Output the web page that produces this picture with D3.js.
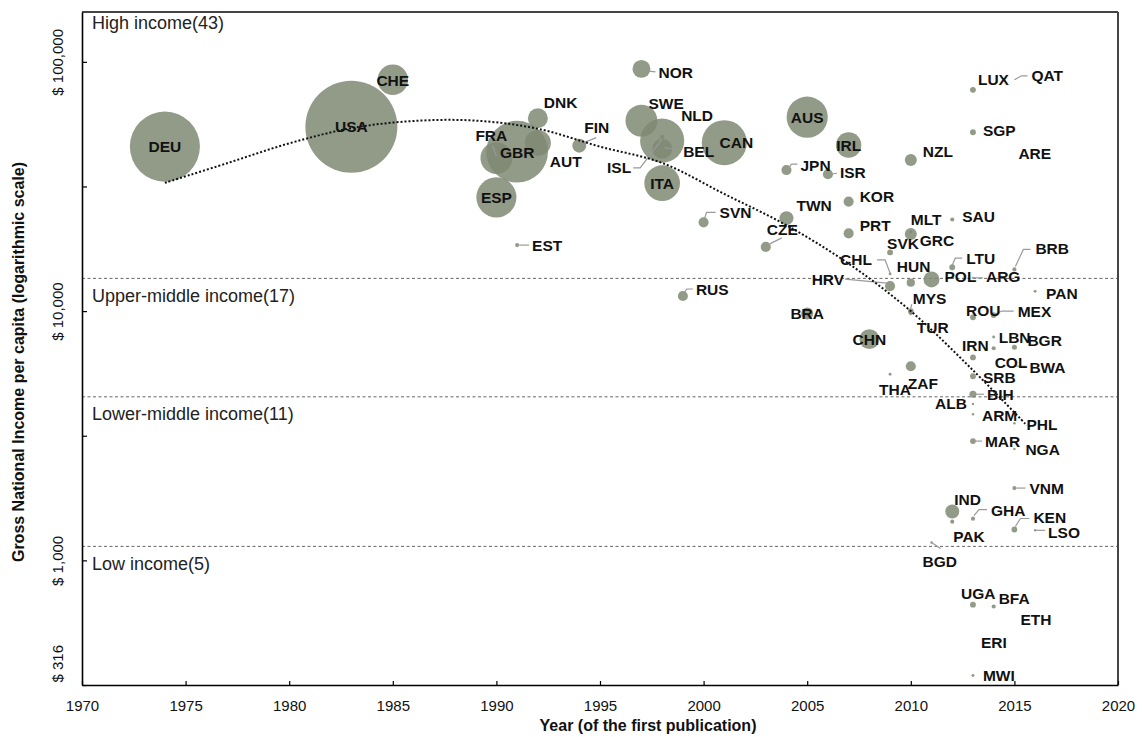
<!DOCTYPE html>
<html><head><meta charset="utf-8">
<script src="https://cdn.jsdelivr.net/npm/d3@7"></script>
<style>
body{margin:0;background:#fff}
svg{display:block}
text{font-family:"Liberation Sans",Arial,Helvetica,sans-serif}
</style>
</head><body>
<svg id="chart" width="1146" height="737"></svg>
<script>
// ---------- DATA ----------
const countries = ["DEU","USA","CHE","NOR","DNK","GBR","FRA","AUT","ESP","EST","FIN","SWE","NLD","BEL","ISL","ITA","CAN","SVN","AUS","IRL","JPN","ISR","NZL","LUX","QAT","SGP","ARE","KOR","TWN","CZE","PRT","MLT","GRC","SAU","SVK","CHL","HUN","POL","LTU","ARG","BRB","HRV","RUS","MYS","TUR","PAN","ROU","MEX","BRA","CHN","IRN","LBN","COL","BGR","BWA","SRB","ZAF","THA","BIH","ALB","ARM","PHL","MAR","NGA","VNM","IND","PAK","GHA","KEN","LSO","BGD","UGA","BFA","ETH","ERI","MWI"];
const years = [1974,1983,1985,1997,1992,1991,1990,1992,1990,1991,1994,1997,1998,1998,1998,1998,2001,2000,2005,2007,2004,2006,2010,2013,2015,2013,2015,2007,2004,2003,2007,2010,2010,2012,2009,2009,2010,2011,2012,2013,2015,2009,1999,2010,2010,2016,2013,2014,2005,2008,2013,2014,2014,2015,2015,2013,2010,2009,2013,2013,2013,2015,2013,2015,2015,2012,2012,2013,2015,2016,2011,2013,2014,2015,2013,2013];
const gni = [45700,54900,84700,93700,59400,43600,41100,47300,28600,18400,46100,58100,48300,44800,50000,32600,47400,22700,60000,46400,36800,35400,40400,77200,84700,52200,42800,27500,23600,18100,20500,20800,20400,23300,17200,14100,13000,13400,15000,13600,14700,12600,11500,10000,9820,12000,9440,9640,9790,7720,6520,7870,7100,7160,6010,5480,6010,5580,4640,4240,3860,3550,3010,2800,1950,1570,1430,1470,1330,1320,1180,664,653,580,469,345];
const sizes = [58,100,11,3.8,4.7,45,12,8,19,0.2,2.3,12,23,4.7,0.2,15,24,1.2,20,7.6,1.2,1.2,1.7,0.4,0,0.4,0,1.2,2.3,1.2,1.2,0.1,1.7,0.2,0.4,0.1,0.8,3,0.4,0.05,0.2,1.2,1.2,0.4,0.2,0.1,0.4,0.4,1.7,4.7,0.4,0.1,0.2,0.3,0.05,0.4,1.2,0.1,0.6,0.07,0.07,0.07,0.4,0.07,0.2,2.3,0.2,0.2,0.4,0.07,0.07,0.4,0.2,0,0,0.1];

const xTickValues = [1970,1975,1980,1985,1990,1995,2000,2005,2010,2015,2020];
const yTickValues = [316.23,1000,3162.3,10000,31623,100000];
const yTickLabels = ["$ 316","$ 1,000","","$ 10,000","","$ 100,000"];
const incomeThresholds = [13530,4530,1138];
const bandLabels = ["High income(43)","Upper-middle income(17)","Lower-middle income(11)","Low income(5)"];
const trendYears = [1974,1977,1980,1983,1986,1989,1992,1995,1998,2001,2004,2007,2010,2013,2015.6];
const trendGni = [32700,39200,47100,54200,57900,58100,53900,45700,39300,29500,22100,15500,10000,5790,3480];

const xTitle = "Year (of the first publication)";
const yTitle = "Gross National Income per capita (logarithmic scale)";

// ---------- LABEL LAYOUT (pixel offsets from the mark) ----------
const labelLayout = {
DEU:[0,0,"m"],USA:[0,0,"m"],CHE:[0,1,"m"],NOR:[17,4,"s"],DNK:[6,-16,"s"],GBR:[0,1,"m"],FRA:[-21,-23,"s"],AUT:[12,19,"s"],
ESP:[0,0,"m"],EST:[15,0,"s"],FIN:[5,-18,"s"],SWE:[7,-17,"s"],NLD:[19,-25,"s"],BEL:[21,3,"s"],ISL:[-31,31,"e"],ITA:[0,0,"m"],
CAN:[12,0,"m"],SVN:[16,-10,"s"],AUS:[0,0,"m"],IRL:[0,0,"m"],JPN:[14,-5,"s"],ISR:[12,-2,"s"],NZL:[12,-9,"s"],LUX:[5,-10,"s"],
QAT:[17,-4,"s"],SGP:[10,-2,"s"],ARE:[4,0,"s"],KOR:[11,-5,"s"],TWN:[10,-13,"s"],CZE:[1,-17,"s"],PRT:[11,-8,"s"],MLT:[0,-12,"s"],
GRC:[9,6,"s"],SAU:[10,-3,"s"],SVK:[-3,-9,"s"],CHL:[-50,-14,"s"],HUN:[-14,-16,"s"],POL:[13,-3,"s"],LTU:[14,-9,"s"],ARG:[13,-1,"s"],
BRB:[21,-21,"s"],HRV:[-46,-7,"e"],RUS:[13,-7,"s"],MYS:[2,-13,"s"],TUR:[6,14,"s"],PAN:[11,2,"s"],ROU:[-7,-7,"s"],MEX:[24,-4,"s"],
BRA:[0,0,"m"],CHN:[0,0,"m"],IRN:[-11,-12,"s"],LBN:[5,0,"s"],COL:[1,14,"s"],BGR:[13,-7,"s"],BWA:[15,1,"s"],SRB:[10,1,"s"],
ZAF:[-3,17,"s"],THA:[-11,15,"s"],BIH:[14,0,"s"],ALB:[-6,-1,"e"],ARM:[9,1,"s"],PHL:[12,1,"s"],MAR:[12,0,"s"],NGA:[11,1,"s"],
VNM:[15,0,"s"],IND:[2,-12,"s"],PAK:[1,15,"s"],GHA:[18,-8,"s"],KEN:[19,-12,"s"],LSO:[13,2,"s"],BGD:[-9,19,"s"],UGA:[-12,-11,"s"],
BFA:[5,-8,"s"],ETH:[6,0,"s"],ERI:[8,0,"s"],MWI:[10,0,"s"]
};
const leaders = {
NOR:[[5,2],[14,3]],FRA:[[-4,-13],[0,-2]],EST:[[2,0],[12,0]],FIN:[[2,-2],[17,-8]],BEL:[[2,-1],[17,1]],
ISL:[[0,2],[-22,31],[-29,31]],SVN:[[1,-4],[3,-10],[12,-10]],JPN:[[2,-2],[5,-6],[11,-6]],ISR:[[3,0],[9,-1]],
QAT:[[0,0],[7,-4],[13,-4]],CZE:[[4,-3],[16,-9]],CHL:[[0,-1],[-5,-14],[-13,-14]],LTU:[[0,-2],[3,-9],[10,-9]],
ARG:[[0,0],[10,0]],BRB:[[1,-3],[9,-20],[16,-20]],HRV:[[-3,-3],[-45,-7]],RUS:[[1,-3],[4,-7],[10,-7]],
MYS:[[0,-3],[1,-7]],MEX:[[2,-1],[8,-4],[20,-4]],BWA:[[2,0],[12,0]],BIH:[[3,0],[11,0]],MAR:[[2,0],[9,0]],
VNM:[[2,0],[11,0]],GHA:[[1,-3],[6,-9],[14,-9]],KEN:[[1,-3],[6,-11],[15,-11]],LSO:[[1,0],[10,0]],BGD:[[0,0],[9,6]]
};

// ---------- CHART ----------
const svg = d3.select("#chart");
const L = 82, R = 1118, T = 12, B = 685;
const x = d3.scaleLinear().domain([1970,2020]).range([L,R]);
const y = d3.scaleLog().domain([Math.pow(10,2.5),Math.pow(10,5.2)]).range([B,T]);
const r = d3.scaleSqrt().domain([0,100]).range([0,46]);

const data = countries.map((c,i)=>({c, year:years[i], gni:gni[i], size:sizes[i]}));

// income threshold lines
svg.append("g").selectAll("line").data(incomeThresholds).join("line")
  .attr("x1",L).attr("x2",R).attr("y1",d=>y(d)).attr("y2",d=>y(d))
  .attr("stroke","#666").attr("stroke-width",1).attr("stroke-dasharray","3,2.5");

// band labels
const bandTops = [null].concat(incomeThresholds);
svg.append("g").selectAll("text").data(bandLabels).join("text")
  .attr("x",L+10)
  .attr("y",(d,i)=> i===0 ? T+17 : y(bandTops[i])+23.5)
  .attr("font-size",18).attr("fill","#222").text(d=>d);

// bubbles
const sorted = data.slice().sort((a,b)=>b.size-a.size);
svg.append("g").selectAll("circle").data(sorted.filter(d=>d.size>0)).join("circle")
  .attr("cx",d=>x(d.year)).attr("cy",d=>y(d.gni)).attr("r",d=>r(d.size))
  .attr("fill","#7f8873").attr("fill-opacity",0.85);

// leader lines
const line = d3.line();
svg.append("g").selectAll("path").data(data.filter(d=>leaders[d.c])).join("path")
  .attr("d",d=>line(leaders[d.c].map(p=>[x(d.year)+p[0], y(d.gni)+p[1]])))
  .attr("fill","none").attr("stroke","#9a9a9a").attr("stroke-width",1.2);

// trend curve
const trend = trendYears.map((t,i)=>[t,trendGni[i]]);
svg.append("path").datum(trend)
  .attr("d",d3.line().x(d=>x(d[0])).y(d=>y(d[1])).curve(d3.curveCatmullRom.alpha(0.5)))
  .attr("fill","none").attr("stroke","#111").attr("stroke-width",2).attr("stroke-dasharray","2,2");

// country labels
const anchorMap = {m:"middle", s:"start", e:"end"};
svg.append("g").selectAll("text").data(data).join("text")
  .attr("x",d=>x(d.year)+labelLayout[d.c][0])
  .attr("y",d=>y(d.gni)+labelLayout[d.c][1])
  .attr("dy","0.36em")
  .attr("text-anchor",d=>anchorMap[labelLayout[d.c][2]])
  .attr("font-size",15.5).attr("font-weight","bold").attr("fill","#111")
  .text(d=>d.c);

// frame top & right
svg.append("line").attr("x1",L).attr("x2",R).attr("y1",T).attr("y2",T).attr("stroke","#444").attr("stroke-width",2);
svg.append("line").attr("x1",R).attr("x2",R).attr("y1",T).attr("y2",B).attr("stroke","#444").attr("stroke-width",2);

// x axis
const gx = svg.append("g").attr("transform",`translate(0,${B})`)
  .call(d3.axisBottom(x).tickValues(xTickValues).tickFormat(d3.format("d")).tickSizeInner(-4).tickSizeOuter(0).tickPadding(15));
gx.select(".domain").attr("stroke","#000").attr("stroke-width",1.6);
gx.selectAll(".tick line").attr("stroke","#000").attr("stroke-width",1.2);
gx.selectAll("text").attr("font-size",15).attr("fill","#111").attr("font-family",'"Liberation Sans",Arial,sans-serif');

// y axis
const gy = svg.append("g").attr("transform",`translate(${L},0)`)
  .call(d3.axisLeft(y).tickValues(yTickValues).tickFormat((d,i)=>yTickLabels[i]).tickSizeInner(-5).tickSizeOuter(0));
gy.select(".domain").attr("stroke","#000").attr("stroke-width",1.6);
gy.selectAll(".tick line").attr("stroke","#000").attr("stroke-width",1.2);
gy.selectAll("text")
  .attr("x",0).attr("dy",0)
  .attr("font-size",15).attr("fill","#111").attr("font-family",'"Liberation Sans",Arial,sans-serif')
  .attr("text-anchor",(d,i)=> i===0 ? "start" : "middle")
  .attr("transform",(d,i)=> i===0 ? "translate(-19,-3) rotate(-90)" : "translate(-19,0) rotate(-90)");

// axis titles
svg.append("text").attr("x",648).attr("y",731).attr("text-anchor","middle")
  .attr("font-size",16).attr("font-weight","bold").attr("fill","#111").text(xTitle);
svg.append("text").attr("transform","translate(24,362) rotate(-90)").attr("text-anchor","middle")
  .attr("font-size",16).attr("font-weight","bold").attr("fill","#111").text(yTitle);
</script>
</body></html>
